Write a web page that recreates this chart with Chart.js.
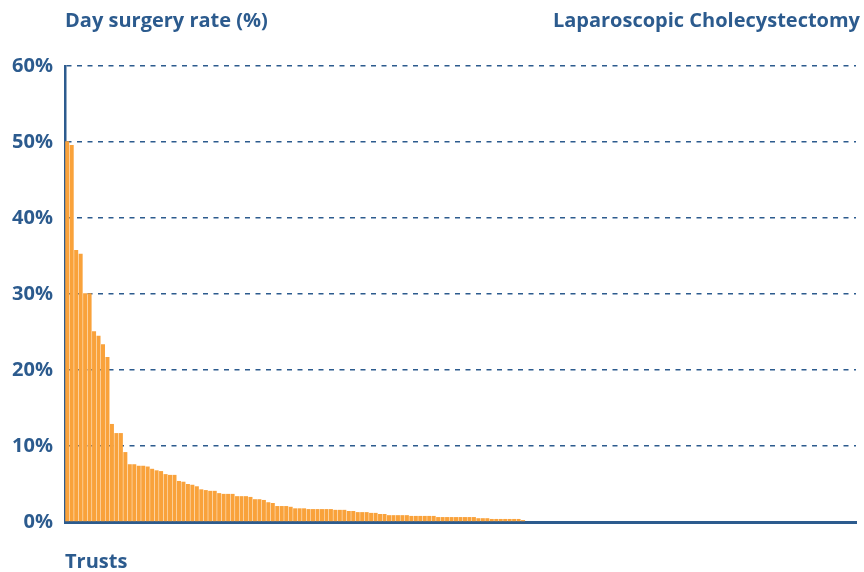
<!DOCTYPE html>
<html>
<head>
<meta charset="utf-8">
<script src="https://cdn.jsdelivr.net/npm/chart.js@4/dist/chart.umd.min.js"></script>
<style>
  html, body { margin: 0; padding: 0; background: #fff; }
  #wrap { width: 864px; height: 572px; }
</style>
</head>
<body>
<div id="wrap"><canvas id="chart" width="864" height="572"></canvas></div>
<script>
// Day surgery rate per trust, sorted high to low (%)
const rates = [
  50.1, 49.6, 35.8, 35.3, 30.1, 30.1, 25.1, 24.5, 23.4, 21.7,
  12.9, 11.7, 11.7, 9.2, 7.6, 7.6, 7.4, 7.4, 7.3, 7.0,
  6.8, 6.7, 6.3, 6.2, 6.2, 5.4, 5.3, 5.0, 4.9, 4.7,
  4.3, 4.2, 4.1, 4.1, 3.8, 3.7, 3.7, 3.7, 3.4, 3.4,
  3.4, 3.3, 3.0, 3.0, 2.9, 2.6, 2.5, 2.1, 2.1, 2.1,
  2.0, 1.8, 1.8, 1.8, 1.7, 1.7, 1.7, 1.7, 1.7, 1.7,
  1.6, 1.6, 1.6, 1.45, 1.45, 1.3, 1.3, 1.3, 1.2, 1.2,
  1.05, 1.05, 0.9, 0.9, 0.9, 0.9, 0.9, 0.8, 0.8, 0.8,
  0.8, 0.8, 0.8, 0.65, 0.65, 0.65, 0.65, 0.65, 0.65, 0.65,
  0.65, 0.65, 0.5, 0.5, 0.5, 0.4, 0.4, 0.4, 0.4, 0.4,
  0.4, 0.4, 0.25
];
const trustCount = 177;
// trusts with no day cases fill the rest of the axis
const values = rates.concat(new Array(trustCount - rates.length).fill(0));
const trusts = values.map((v, i) => 'Trust ' + (i + 1));
const yTicks = [0, 10, 20, 30, 40, 50, 60];

const blue = '#2c5b8e';
const orange = '#f9a23b';
const fontFamily = '"Open Sans", "DejaVu Sans", sans-serif';

// header texts and axis caption
const labelsPlugin = {
    id: 'labels',
    afterDraw(chart) {
        const ctx = chart.ctx;
        const area = chart.chartArea;
        ctx.save();
        ctx.fillStyle = blue;
        ctx.font = 'bold 20px ' + fontFamily;
        ctx.textBaseline = 'alphabetic';
        ctx.textAlign = 'left';
        ctx.fillText('Day surgery rate (%)', area.left, 27);
        ctx.fillText('Trusts', area.left, 568);
        ctx.textAlign = 'right';
        ctx.fillText('Laparoscopic Cholecystectomy', 860, 27);
        ctx.restore();
    }
};

new Chart(document.getElementById('chart'), {
    type: 'bar',
    data: {
        labels: trusts,
        datasets: [{
            data: values,
            backgroundColor: orange,
            borderWidth: 0,
            barPercentage: 0.9,
            categoryPercentage: 1
        }]
    },
    options: {
        responsive: false,
        animation: false,
        layout: { padding: { left: 0, right: 8, top: 66, bottom: 50 } },
        plugins: { legend: { display: false }, tooltip: { enabled: false } },
        scales: {
            x: {
                grid: { display: false },
                ticks: { display: false },
                border: { display: true, color: blue, width: 3 },
                afterFit: s => { s.height = 0; }
            },
            y: {
                min: 0,
                max: 60,
                afterBuildTicks: s => { s.ticks = yTicks.map(v => ({ value: v })); },
                afterFit: s => { s.width = 65; },
                ticks: {
                    color: blue,
                    padding: 12,
                    font: { family: fontFamily, size: 20, weight: 'bold' },
                    callback: v => v + '%'
                },
                grid: {
                    drawTicks: false,
                    lineWidth: 1.5,
                    color: c => c.tick && c.tick.value === 0 ? 'rgba(0,0,0,0)' : blue
                },
                border: { display: true, color: blue, width: 2.5, dash: [5, 5.5] }
            }
        }
    },
    plugins: [labelsPlugin]
});
</script>
</body>
</html>
